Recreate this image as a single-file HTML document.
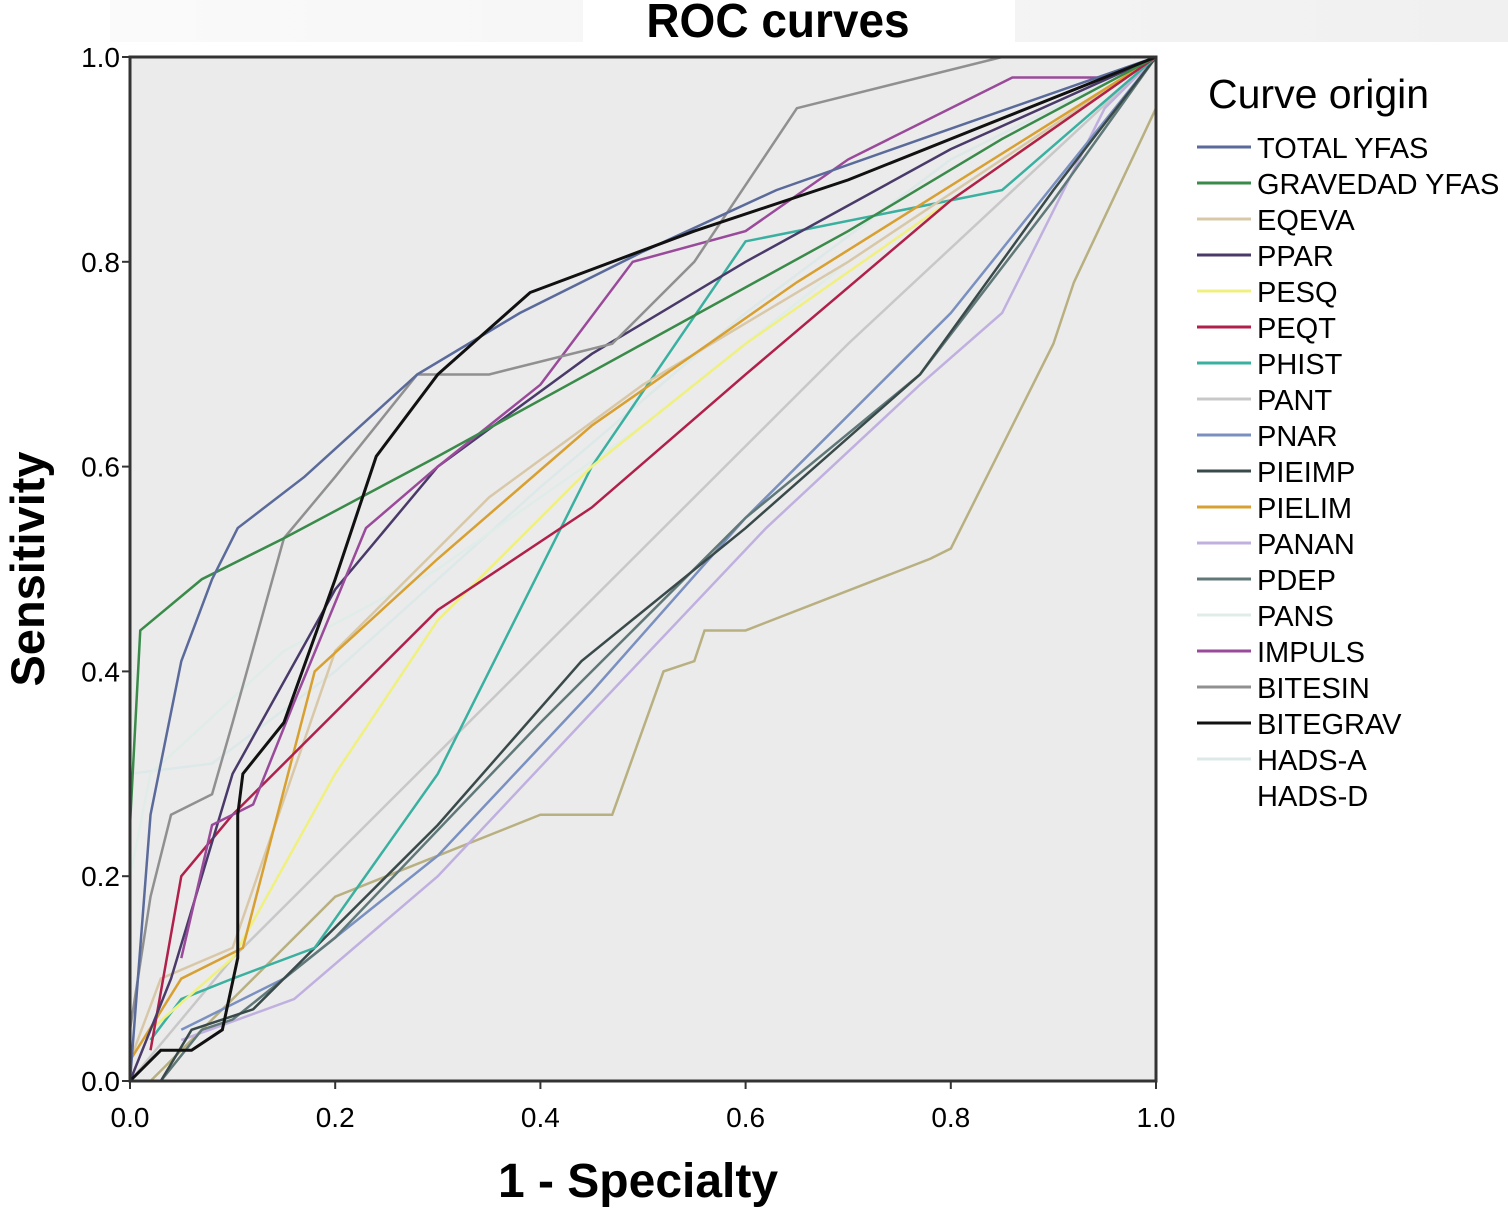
<!DOCTYPE html>
<html><head><meta charset="utf-8"><style>
html,body{margin:0;padding:0;background:#fff;}
svg{display:block;font-family:"Liberation Sans",sans-serif;}
</style></head><body>
<svg id="chart" width="1508" height="1212">
<defs><linearGradient id="tg" x1="0" x2="1"><stop offset="0" stop-color="#fafafa"/><stop offset="1" stop-color="#f0f0f0"/></linearGradient></defs>
<rect x="110" y="0" width="1398" height="42" fill="url(#tg)"/>
<rect x="583" y="0" width="432" height="42" fill="#fff"/>
<text x="778" y="36" text-anchor="middle" font-size="46" font-weight="bold" transform="translate(778,0) scale(1,1.05) translate(-778,-1)">ROC curves</text>
<rect x="130" y="57" width="1026" height="1024" fill="#ebebeb"/>
<g id="curves"></g>
<rect x="130" y="57" width="1026" height="1024" fill="none" stroke="#333" stroke-width="3"/>
<g id="ticks"></g>
<text transform="translate(44,569) rotate(-90)" text-anchor="middle" font-size="47" font-weight="bold">Sensitivity</text>
<text x="638" y="1197" text-anchor="middle" font-size="48" font-weight="bold">1 - Specialty</text>
<text x="1208" y="108" font-size="41">Curve origin</text>
<g id="legend"></g>
</svg>
<script>
const names=["TOTAL YFAS","GRAVEDAD YFAS","EQEVA","PPAR","PESQ","PEQT","PHIST","PANT","PNAR","PIEIMP","PIELIM","PANAN","PDEP","PANS","IMPULS","BITESIN","BITEGRAV","HADS-A","HADS-D"];
const colors=["#5a6a9a","#3a8a4a","#d8c8a8","#4a3a6a","#f0f080","#b0204a","#3ab0a0","#c8c8c8","#7a90c0","#3a4a4a","#d8a030","#c0b0e0","#607878","#e0ece8","#9a4a9a","#909090","#111111","#dde8e8","#b8b080"];
const legendColors=["#5a6a9a","#3a8a4a","#d8c8a8","#4a3a6a","#f0f080","#b0204a","#3ab0a0","#c8c8c8","#7a90c0","#3a4a4a","#d8a030","#c0b0e0","#607878","#e0ece8","#9a4a9a","#909090","#111111","#dde8e8","#ffffff"];
const fprs=[
[0,0.02,0.05,0.08,0.105,0.17,0.28,0.38,0.5,0.63,0.8,1],
[0,0.01,0.07,0.15,0.3,0.5,0.7,0.85,1],
[0,0.03,0.1,0.2,0.35,0.5,0.7,1],
[0,0.04,0.1,0.2,0.3,0.45,0.6,0.8,1],
[0.02,0.1,0.2,0.3,0.45,0.6,0.8,1],
[0.02,0.05,0.1,0.2,0.3,0.45,0.6,0.8,1],
[0.02,0.05,0.1,0.18,0.3,0.45,0.6,0.85,1],
[0,0.1,0.3,0.5,0.7,1],
[0.05,0.15,0.3,0.45,0.6,0.8,1],
[0.03,0.06,0.12,0.2,0.3,0.44,0.6,0.77,0.9,1],
[0,0.05,0.11,0.18,0.3,0.45,0.65,1],
[0.05,0.16,0.3,0.45,0.62,0.77,0.85,0.95,1],
[0.03,0.07,0.1,0.2,0.4,0.6,0.77,0.9,1],
[0,0.02,0.15,0.3,0.5,0.7,1],
[0.05,0.08,0.12,0.16,0.23,0.3,0.4,0.49,0.6,0.7,0.86,0.95,1],
[0,0.02,0.04,0.08,0.1,0.15,0.2,0.28,0.35,0.47,0.55,0.65,0.85,1],
[0,0.03,0.06,0.09,0.105,0.105,0.11,0.15,0.2,0.24,0.3,0.39,0.55,0.7,1],
[0,0.08,0.2,0.4,0.6,0.8,1],
[0,0.02,0.2,0.4,0.47,0.52,0.55,0.56,0.6,0.78,0.8,0.9,0.92,1,1]
];
const tprs=[
[0,0.26,0.41,0.49,0.54,0.59,0.69,0.75,0.81,0.87,0.93,1],
[0.25,0.44,0.49,0.53,0.61,0.72,0.83,0.92,1],
[0.02,0.1,0.13,0.42,0.57,0.68,0.8,1],
[0,0.1,0.3,0.48,0.6,0.71,0.8,0.91,1],
[0.05,0.12,0.3,0.45,0.6,0.72,0.86,1],
[0.03,0.2,0.26,0.36,0.46,0.56,0.69,0.86,1],
[0.04,0.08,0.1,0.13,0.3,0.6,0.82,0.87,1],
[0,0.12,0.32,0.52,0.72,1],
[0.05,0.1,0.22,0.38,0.55,0.75,1],
[0,0.05,0.07,0.15,0.25,0.41,0.54,0.69,0.87,1],
[0.02,0.1,0.13,0.4,0.51,0.64,0.78,1],
[0.04,0.08,0.2,0.36,0.54,0.68,0.75,0.95,1],
[0,0.05,0.06,0.14,0.35,0.55,0.69,0.86,1],
[0.2,0.3,0.42,0.5,0.64,0.8,1],
[0.12,0.25,0.27,0.37,0.54,0.6,0.68,0.8,0.83,0.9,0.98,0.98,1],
[0.05,0.18,0.26,0.28,0.35,0.53,0.59,0.69,0.69,0.72,0.8,0.95,1,1],
[0,0.03,0.03,0.05,0.12,0.26,0.3,0.35,0.49,0.61,0.69,0.77,0.83,0.88,1],
[0.3,0.31,0.4,0.58,0.75,0.9,1],
[0,0,0.18,0.26,0.26,0.4,0.41,0.44,0.44,0.51,0.52,0.72,0.78,0.95,1]
];
const ticks=[0,0.2,0.4,0.6,0.8,1.0];
const tickLabels=["0.0","0.2","0.4","0.6","0.8","1.0"];
const NS="http://www.w3.org/2000/svg";
const X0=130,X1=1156,Y0=1081,Y1=57;
function xs(v){return X0+v*(X1-X0);}
function ys(v){return Y0-v*(Y0-Y1);}
const cg=document.getElementById('curves');
const order=[18,17,13,7,11,8,12,9,6,4,2,10,5,3,14,15,1,0,16];
order.forEach(i=>{
  const p=document.createElementNS(NS,'polyline');
  p.setAttribute('points',fprs[i].map((f,k)=>xs(f)+','+ys(tprs[i][k])).join(' '));
  p.setAttribute('fill','none');p.setAttribute('stroke',colors[i]);
  p.setAttribute('stroke-width',i==16?3:2.5);
  
  
  cg.appendChild(p);
});
const tg=document.getElementById('ticks');
ticks.forEach((t,k)=>{
  const a=document.createElementNS(NS,'line');
  a.setAttribute('x1',xs(t));a.setAttribute('x2',xs(t));a.setAttribute('y1',Y0);a.setAttribute('y2',Y0+8);a.setAttribute('stroke','#333');a.setAttribute('stroke-width',2);
  
  
  tg.appendChild(a);
  const b=document.createElementNS(NS,'line');
  b.setAttribute('x1',X0-8);b.setAttribute('x2',X0);b.setAttribute('y1',ys(t));b.setAttribute('y2',ys(t));b.setAttribute('stroke','#333');b.setAttribute('stroke-width',2);
  
  
  tg.appendChild(b);
  const tx=document.createElementNS(NS,'text');
  tx.setAttribute('x',xs(t));tx.setAttribute('y',Y0+46);tx.setAttribute('text-anchor','middle');tx.setAttribute('font-size','28');
  tx.textContent=tickLabels[k];
  
  
  tg.appendChild(tx);
  const ty=document.createElementNS(NS,'text');
  ty.setAttribute('x',X0-10);ty.setAttribute('y',ys(t)+10);ty.setAttribute('text-anchor','end');ty.setAttribute('font-size','28');
  ty.textContent=tickLabels[k];
  
  
  tg.appendChild(ty);
});
const lg=document.getElementById('legend');
names.forEach((n,i)=>{
  const y=147+i*36;
  const l=document.createElementNS(NS,'line');
  l.setAttribute('x1',1197);l.setAttribute('x2',1251);l.setAttribute('y1',y);l.setAttribute('y2',y);l.setAttribute('stroke',legendColors[i]);l.setAttribute('stroke-width',3);
  
  
  lg.appendChild(l);
  const t=document.createElementNS(NS,'text');
  t.setAttribute('x',1257);t.setAttribute('y',y+11);t.setAttribute('font-size','29');
  t.textContent=n;
  
  
  lg.appendChild(t);
});
</script>
</body></html>
